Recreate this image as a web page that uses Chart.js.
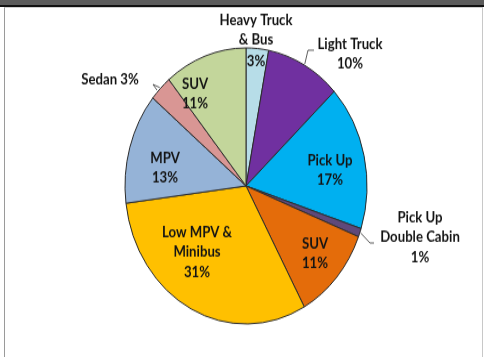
<!DOCTYPE html>
<html>
<head>
<meta charset="utf-8">
<script src="https://cdn.jsdelivr.net/npm/chart.js@4.4.0/dist/chart.umd.min.js"></script>
<style>
    html, body { margin: 0; padding: 0; background: #fff; }
    body { width: 484px; height: 357px; position: relative; overflow: hidden; }
    #topbar { position: absolute; left: 0; top: 0; width: 484px; height: 5px; background: #5b5b5b; border-bottom: 2px solid #111; }
    #frame { position: absolute; left: 4px; top: 7px; width: 477px; height: 360px; border-left: 1px solid #9a9a9a; border-right: 1px solid #c8c8c8; border-top: 1px solid #d0d0d0; }
    #wrap { position: absolute; left: 0; top: 0; width: 484px; height: 313px; transform: scaleY(1.1406); transform-origin: 0 0; }
</style>
</head>
<body>
<div id="topbar"></div>
<div id="frame"></div>
<div id="wrap"><canvas id="pie" width="484" height="313"></canvas></div>
<script>
// vehicle share, clockwise from 12 o'clock
var categories = ['Heavy Truck & Bus', 'Light Truck', 'Pick Up', 'Pick Up Double Cabin', 'SUV', 'Low MPV & Minibus', 'MPV', 'Sedan', 'SUV'];
var shares = [3, 10, 17, 1, 11, 31, 13, 3, 11];
var labelLines = [
    ['Heavy Truck', '& Bus'],
    ['Light Truck'],
    ['Pick Up'],
    ['Pick Up', 'Double Cabin'],
    ['SUV'],
    ['Low MPV &', 'Minibus'],
    ['MPV'],
    ['Sedan'],
    ['SUV']
];
var sliceColors = ['#b7dde8', '#7030a0', '#00b0f0', '#5f497a', '#e46c0a', '#ffc000', '#95b3d7', '#d99694', '#c3d69b'];

// label placement, offsets from the pie centre (canvas px)
var labelLayout = [
    { dx: 10, dy: -137, pctDx: 10, pctDy: -109 },
    { dx: 104, dy: -116, line: [[0, 0], [62, -119], [68, -119]] },
    { dx: 84, dy: -14 },
    { dx: 174, dy: 45, line: [[0, 0], [124, 50], [128, 50]] },
    { dx: 69, dy: 59 },
    { dx: -49, dy: 58 },
    { dx: -81, dy: -16 },
    { dx: -136, dy: -93, inline: true, line: [[0, 0], [-93, -89], [-89, -84]] },
    { dx: -51, dy: -81 }
];

const FONT = 'bold 13.2px Lato, "Open Sans", sans-serif';
const LINE_H = 17.5;

function drawBlock(ctx, lines, cx, cy) {
    var top = cy - (lines.length - 1) * LINE_H / 2;
    for (var i = 0; i < lines.length; i++) {
        ctx.fillText(lines[i], cx, top + i * LINE_H);
    }
}

const sliceLabels = {
    id: 'sliceLabels',
    afterDatasetsDraw(chart) {
        const ctx = chart.ctx;
        const meta = chart.getDatasetMeta(0);
        ctx.save();
        ctx.font = FONT;
        ctx.fillStyle = '#141414';
        ctx.textAlign = 'center';
        ctx.textBaseline = 'middle';
        ctx.strokeStyle = '#333';
        ctx.lineWidth = 0.8;
        meta.data.forEach(function (arc, i) {
            const lay = labelLayout[i];
            const cx = arc.x, cy = arc.y;
            const pct = shares[i] + '%';
            if (lay.line) {
                const mid = (arc.startAngle + arc.endAngle) / 2;
                const r = arc.outerRadius + 1;
                ctx.beginPath();
                ctx.moveTo(cx + Math.cos(mid) * r, cy + Math.sin(mid) * r);
                for (var k = 1; k < lay.line.length; k++) {
                    ctx.lineTo(cx + lay.line[k][0], cy + lay.line[k][1]);
                }
                ctx.stroke();
            }
            if (lay.pctDx !== undefined) {
                drawBlock(ctx, labelLines[i], cx + lay.dx, cy + lay.dy);
                drawBlock(ctx, [pct], cx + lay.pctDx, cy + lay.pctDy);
            } else if (lay.inline) {
                drawBlock(ctx, [labelLines[i].join(' ') + ' ' + pct], cx + lay.dx, cy + lay.dy);
            } else {
                drawBlock(ctx, labelLines[i].concat([pct]), cx + lay.dx, cy + lay.dy);
            }
        });
        ctx.restore();
    }
};

const config = {
    type: 'pie',
    data: {
        labels: categories,
        datasets: [{
            data: shares,
            backgroundColor: sliceColors,
            borderColor: '#2a2a2a',
            borderWidth: 1
        }]
    },
    options: {
        responsive: false,
        animation: false,
        radius: 121,
        layout: {
            padding: { left: 125, right: 117, top: 42, bottom: 29 }
        },
        plugins: {
            legend: { display: false },
            tooltip: { enabled: false }
        }
    },
    plugins: [sliceLabels]
};

new Chart(document.getElementById('pie'), config);
</script>
</body>
</html>
